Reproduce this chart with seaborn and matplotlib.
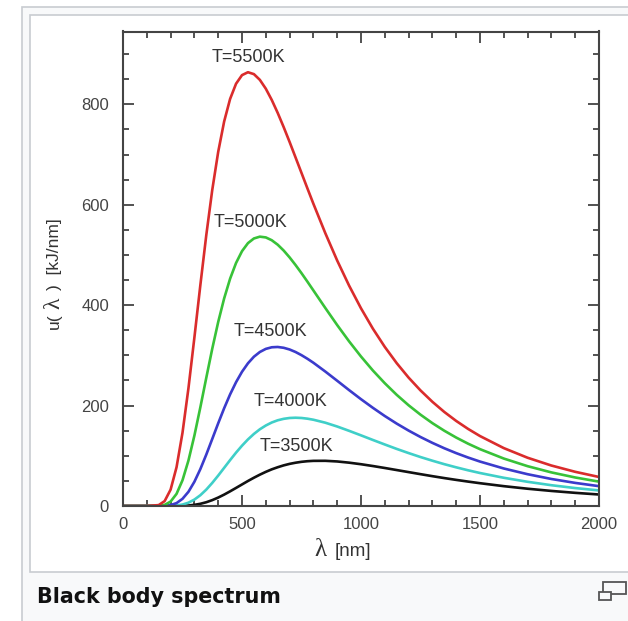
import matplotlib
matplotlib.use("Agg")
import matplotlib.pyplot as plt
import numpy as np
import pandas as pd
import seaborn as sns
from matplotlib.ticker import MultipleLocator
from matplotlib.patches import Rectangle

# ---------------- data ----------------
wavelength_nm = [0, 100, 150, 175,
                 200, 225, 250, 275, 300, 325, 350, 375, 400, 425, 450, 475, 500,
                 525, 550, 575, 600, 625, 650, 675, 700, 725, 750, 775, 800,
                 850, 900, 950, 1000,
                 1050, 1100, 1150, 1200, 1250, 1300, 1350, 1400, 1450, 1500,
                 1600, 1700, 1800, 1900, 2000]

u_5500 = [0, 0, 1.8, 9.8,
          32.6, 77.3, 145.9, 234.6, 335.6, 439.9, 539.7, 629.4, 705.3, 765.8, 810.7, 841.0, 858.1,
          863.9, 860.1, 848.7, 831.1, 808.7, 782.9, 754.7, 725.0, 694.2, 663.3, 632.4, 601.9,
          543.4, 488.8, 438.9, 393.7,
          353.1, 316.8, 284.5, 255.7, 230.2, 207.5, 187.3, 169.4, 153.5, 139.3,
          115.3, 96.1, 80.6, 68.1, 57.8]
u_5000 = [0, 0, 0.3, 2.2,
          8.8, 24.2, 51.3, 90.6, 140.3, 196.6, 255.5, 313.2, 366.5, 413.4, 452.7, 484.0, 507.5,
          523.5, 532.8, 536.4, 534.9, 529.3, 520.4, 508.8, 495.1, 479.9, 463.7, 446.7, 429.3,
          394.4, 360.3, 327.9, 297.7,
          269.8, 244.5, 221.4, 200.6, 181.9, 165.0, 149.9, 136.3, 124.1, 113.2,
          94.5, 79.3, 66.9, 56.8, 48.5]
u_4500 = [0, 0, 0.0, 0.4,
          1.8, 5.8, 14.3, 28.3, 48.3, 73.5, 102.5, 133.5, 164.7, 194.7, 222.3, 246.6, 267.3,
          284.2, 297.3, 306.7, 312.9, 316.1, 316.7, 315.1, 311.7, 306.7, 300.4, 293.2, 285.3,
          267.8, 249.4, 230.8, 212.7,
          195.5, 179.2, 164.1, 150.2, 137.4, 125.7, 115.0, 105.3, 96.5, 88.5,
          74.7, 63.3, 53.8, 46.0, 39.5]
u_4000 = [0, 0, 0.0, 0.0,
          0.2, 1.0, 2.9, 6.6, 12.8, 21.5, 32.7, 46.0, 60.6, 76.0, 91.4, 106.3, 120.1,
          132.6, 143.5, 152.8, 160.3, 166.3, 170.7, 173.6, 175.3, 175.8, 175.3, 173.9, 171.8,
          165.9, 158.3, 149.7, 140.7,
          131.5, 122.5, 113.7, 105.4, 97.5, 90.2, 83.3, 77.0, 71.1, 65.7,
          56.2, 48.2, 41.4, 35.7, 31.0]
u_3500 = [0, 0, 0.0, 0.0,
          0.0, 0.1, 0.4, 1.0, 2.3, 4.4, 7.5, 11.7, 16.8, 22.7, 29.2, 36.0, 42.9,
          49.8, 56.3, 62.4, 68.0, 73.0, 77.2, 80.9, 83.9, 86.2, 88.0, 89.2, 89.9,
          90.0, 88.7, 86.3, 83.2,
          79.6, 75.7, 71.6, 67.5, 63.4, 59.4, 55.6, 52.0, 48.6, 45.4,
          39.5, 34.4, 30.0, 26.2, 22.9]

series_labels = ["T=3500K", "T=4000K", "T=4500K", "T=5000K", "T=5500K"]
series_values = [u_3500, u_4000, u_4500, u_5000, u_5500]
series_colors = ["#111111", "#3fcfc8", "#3b3bcc", "#38c238", "#da2c2c"]
label_x = [727, 702, 618, 534, 529]
label_y = [119, 208, 348, 565, 893]

x_ticks = [0, 500, 1000, 1500, 2000]
y_ticks = [0, 200, 400, 600, 800]

# ---------------- figure ----------------
sns.set_theme(style="ticks")
plt.rcParams["font.family"] = ["Liberation Sans", "DejaVu Sans"]

W, H = 628, 621
fig = plt.figure(figsize=(W / 100, H / 100), dpi=100, facecolor="white")


def fx(px):
    return px / W


def fy(py):
    return 1 - py / H


# thumbnail frames (behind everything)
fig.patches.append(Rectangle((fx(22), fy(640)), 1, (640 - 7) / H, transform=fig.transFigure,
                             facecolor="#f8f9fa", edgecolor="#c8ccd1", lw=1.2, zorder=-20))
fig.patches.append(Rectangle((fx(30), fy(572)), 1, (572 - 15) / H, transform=fig.transFigure,
                             facecolor="white", edgecolor="#c8ccd1", lw=1.2, zorder=-10))

ax = fig.add_axes([fx(123), fy(506), (599 - 123) / W, (506 - 31.5) / H])
ax.set_facecolor("white")
ax.set_zorder(1)

df = pd.concat([
    pd.DataFrame({"wavelength": wavelength_nm, "u": vals, "T": lab})
    for lab, vals in zip(series_labels, series_values)
], ignore_index=True)

sns.lineplot(data=df, x="wavelength", y="u", hue="T", hue_order=series_labels,
             palette=dict(zip(series_labels, series_colors)), estimator=None,
             linewidth=1.9, legend=False, ax=ax)

for lab, lx, ly in zip(series_labels, label_x, label_y):
    ax.text(lx, ly, lab, ha="center", va="center", fontsize=13, color="#333333")

ax.set_xlim(0, 2000)
ax.set_ylim(0, 945)
ax.set_xticks(x_ticks)
ax.set_yticks(y_ticks)
ax.xaxis.set_minor_locator(MultipleLocator(100))
ax.yaxis.set_minor_locator(MultipleLocator(50))
ax.tick_params(which="both", direction="in", top=True, right=True, color="#444444", width=1.3)
ax.tick_params(which="major", length=8, labelsize=12, labelcolor="#444444")
ax.tick_params(axis="x", which="major", pad=8)
ax.tick_params(axis="y", which="major", pad=10)
ax.tick_params(which="minor", length=4)
for s in ax.spines.values():
    s.set_color("#444444")
    s.set_linewidth(1.5)
ax.set_xlabel("")
ax.set_ylabel("")

# axis labels
fig.text(fx(320), fy(550), "λ", family="Liberation Serif", fontsize=18, color="#333333",
         ha="center", va="center")
fig.text(fx(353), fy(551), "[nm]", fontsize=13.5, color="#333333", ha="center", va="center")

fig.text(fx(54), fy(329), "u(", rotation=90, fontsize=12.5, color="#333333", ha="center", va="bottom")
fig.text(fx(54), fy(309), "λ", rotation=90, family="Liberation Serif", fontsize=17,
         color="#333333", ha="center", va="bottom")
fig.text(fx(54), fy(290), ")  [kJ/nm]", rotation=90, fontsize=12.5, color="#333333",
         ha="center", va="bottom")

# caption
fig.text(fx(37), fy(597), "Black body spectrum", family="DejaVu Sans", fontweight="bold",
         fontsize=14.9, color="#111111", ha="left", va="center")

# enlarge icon
fig.patches.append(Rectangle((fx(603), fy(594)), (626 - 603) / W, (594 - 582) / H,
                             transform=fig.transFigure, facecolor="none", edgecolor="#555555", lw=1.3))
fig.patches.append(Rectangle((fx(599), fy(600)), (611 - 599) / W, (600 - 592) / H,
                             transform=fig.transFigure, facecolor="#f8f9fa", edgecolor="#555555", lw=1.3))

fig.savefig("out.png", dpi=100, facecolor=fig.get_facecolor())
